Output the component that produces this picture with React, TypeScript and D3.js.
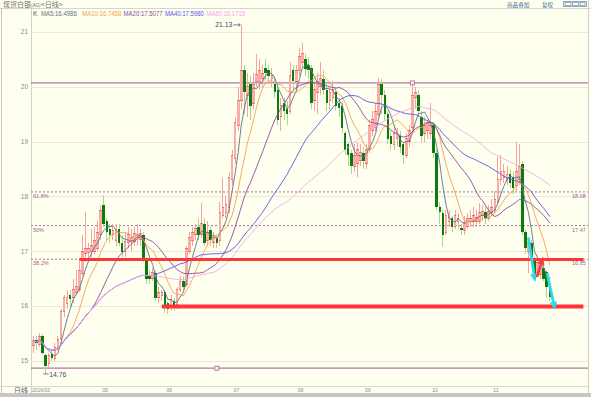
import React from 'react';
import * as d3 from 'd3';

const W = 591;
const H = 397;

// daily candles: [open, high, low, close]
const candles: [number, number, number, number][] = [
  [15.28, 15.45, 15.15, 15.37], [15.38, 15.45, 15.2, 15.32], [15.3, 15.5, 15.25, 15.45], [15.45, 15.48, 15.1, 15.15],
  [15.1, 15.12, 14.76, 14.9], [14.95, 15.15, 14.88, 15.1], [15.12, 15.2, 15.0, 15.05], [15.05, 15.32, 15.0, 15.25],
  [15.25, 15.45, 15.2, 15.38], [15.4, 15.95, 15.3, 15.9], [15.9, 16.2, 15.8, 16.15], [16.05, 16.3, 15.95, 16.15],
  [16.2, 16.3, 16.0, 16.12], [16.15, 16.5, 16.05, 16.3], [16.25, 16.65, 16.2, 16.35], [16.3, 16.85, 16.25, 16.65],
  [16.6, 17.3, 16.55, 17.0], [16.95, 17.72, 16.8, 17.05], [16.98, 17.15, 16.85, 17.05], [17.0, 17.4, 16.9, 17.1],
  [17.0, 17.45, 16.95, 17.2], [17.05, 17.55, 17.0, 17.35], [17.3, 17.85, 17.2, 17.75], [17.85, 18.02, 17.45, 17.5],
  [17.55, 17.6, 17.2, 17.35], [17.4, 17.5, 17.15, 17.3], [17.3, 17.5, 17.2, 17.38], [17.2, 17.5, 17.1, 17.4],
  [17.4, 17.5, 17.1, 17.15], [17.15, 17.3, 16.9, 16.98], [17.0, 17.35, 16.9, 17.18], [17.15, 17.45, 17.05, 17.3],
  [17.2, 17.4, 17.0, 17.25], [17.18, 17.45, 17.1, 17.32], [17.25, 17.5, 17.1, 17.3], [17.22, 17.4, 17.1, 17.32],
  [17.3, 17.35, 16.8, 16.85], [16.85, 16.9, 16.4, 16.5], [16.55, 16.65, 16.4, 16.5], [16.5, 16.7, 16.45, 16.62],
  [16.6, 16.65, 16.1, 16.15], [16.15, 16.35, 16.05, 16.25], [16.2, 16.3, 16.1, 16.25], [16.25, 16.3, 15.87, 16.0],
  [16.05, 16.1, 15.85, 15.95], [15.98, 16.2, 15.9, 16.12], [16.1, 16.15, 15.9, 16.0], [16.02, 16.35, 15.95, 16.3],
  [16.3, 16.55, 16.25, 16.45], [16.45, 16.55, 16.3, 16.35], [16.4, 17.1, 16.35, 17.05], [17.0, 17.35, 16.95, 17.25],
  [17.2, 17.45, 17.1, 17.35], [17.3, 17.5, 17.2, 17.42], [17.45, 17.6, 17.2, 17.3], [17.3, 17.88, 17.25, 17.5],
  [17.5, 17.6, 17.1, 17.15], [17.2, 17.55, 17.1, 17.35], [17.38, 17.45, 17.1, 17.2], [17.15, 17.35, 17.05, 17.25],
  [17.25, 17.3, 17.05, 17.15], [17.2, 17.9, 17.1, 17.7], [17.65, 18.33, 17.6, 17.8], [17.7, 18.0, 17.6, 17.85],
  [17.8, 18.45, 17.7, 18.35], [18.3, 18.85, 18.2, 18.75], [18.7, 19.45, 18.6, 19.35], [19.3, 20.0, 19.2, 19.75],
  [19.75, 21.13, 19.6, 20.3], [20.3, 20.4, 19.5, 19.9], [19.85, 20.25, 19.45, 20.0], [20.05, 20.2, 19.4, 19.65],
  [19.7, 20.25, 19.6, 20.05], [20.1, 20.6, 20.0, 20.22], [20.1, 20.5, 19.95, 20.3], [20.15, 20.4, 20.0, 20.25],
  [20.35, 20.5, 20.1, 20.25], [20.3, 20.4, 20.05, 20.2], [20.15, 20.35, 20.0, 20.2], [20.05, 20.2, 19.8, 19.9],
  [19.95, 20.0, 19.3, 19.4], [19.45, 19.8, 19.2, 19.65], [19.7, 19.8, 19.4, 19.55], [19.6, 19.75, 19.3, 19.5],
  [19.55, 20.45, 19.5, 20.2], [20.3, 20.4, 19.95, 20.1], [20.1, 20.4, 19.9, 20.3], [20.3, 20.7, 20.2, 20.55],
  [20.45, 20.8, 20.35, 20.6], [20.5, 20.6, 20.2, 20.32], [20.4, 20.55, 20.15, 20.3], [20.35, 20.4, 19.6, 19.7],
  [19.75, 20.1, 19.55, 19.95], [19.9, 20.25, 19.5, 20.1], [20.0, 20.45, 19.85, 20.15], [20.15, 20.3, 19.85, 19.95],
  [19.95, 20.05, 19.55, 19.7], [19.75, 20.0, 19.6, 19.9], [19.8, 20.1, 19.7, 19.95], [19.9, 20.0, 19.55, 19.65],
  [19.7, 19.8, 19.45, 19.62], [19.65, 19.7, 19.15, 19.25], [19.15, 19.2, 18.75, 18.85], [18.95, 19.0, 18.55, 18.75],
  [18.8, 18.85, 18.4, 18.55], [18.55, 18.95, 18.45, 18.75], [18.6, 19.0, 18.35, 18.85], [18.65, 18.95, 18.55, 18.8],
  [18.8, 18.9, 18.5, 18.65], [18.6, 18.95, 18.5, 18.85], [18.85, 19.4, 18.8, 19.3], [19.2, 19.55, 19.1, 19.4],
  [19.25, 19.7, 19.2, 19.55], [19.5, 20.16, 19.45, 20.05], [20.05, 20.15, 19.5, 19.85], [19.85, 19.95, 19.4, 19.5],
  [19.5, 19.55, 18.95, 19.05], [19.1, 19.2, 18.85, 18.95], [18.95, 19.3, 18.85, 19.15], [19.05, 19.25, 18.9, 19.15],
  [19.1, 19.2, 18.8, 18.9], [18.95, 19.0, 18.6, 18.75], [18.75, 19.15, 18.7, 19.05], [19.0, 19.3, 18.9, 19.2],
  [19.25, 20.07, 19.2, 19.85], [19.8, 20.0, 19.6, 19.9], [19.85, 19.95, 19.45, 19.55], [19.45, 19.55, 19.0, 19.1],
  [19.15, 19.45, 19.0, 19.3], [19.2, 19.4, 19.05, 19.35], [19.15, 19.7, 19.05, 19.3], [19.3, 19.35, 18.7, 18.8],
  [18.8, 18.85, 17.75, 17.8], [17.8, 17.9, 17.5, 17.72], [17.7, 17.75, 17.08, 17.3], [17.35, 17.75, 17.3, 17.65],
  [17.55, 17.75, 17.45, 17.62], [17.6, 17.65, 17.35, 17.45], [17.45, 17.75, 17.4, 17.65], [17.55, 17.7, 17.4, 17.6],
  [17.42, 17.5, 17.3, 17.38], [17.38, 17.65, 17.3, 17.5], [17.45, 17.7, 17.4, 17.6], [17.55, 17.75, 17.45, 17.6],
  [17.55, 17.8, 17.45, 17.65], [17.55, 17.75, 17.45, 17.62], [17.55, 17.88, 17.5, 17.7], [17.65, 17.85, 17.55, 17.72],
  [17.72, 17.8, 17.5, 17.6], [17.6, 17.85, 17.55, 17.72], [17.7, 17.95, 17.65, 17.8], [17.75, 18.1, 17.7, 17.95],
  [17.9, 18.72, 17.85, 18.3], [18.3, 18.75, 18.2, 18.45], [18.35, 18.6, 18.25, 18.45], [18.3, 18.55, 18.2, 18.4],
  [18.4, 18.5, 18.15, 18.25], [18.35, 18.45, 18.05, 18.15], [18.2, 19.0, 18.1, 18.45], [18.3, 18.95, 18.2, 18.55],
  [18.6, 18.65, 17.3, 17.35], [17.35, 17.4, 16.95, 17.05], [17.0, 17.25, 16.6, 17.15], [17.15, 17.2, 16.75, 16.85],
  [16.85, 16.9, 16.5, 16.57], [16.62, 16.9, 16.55, 16.8], [16.58, 16.8, 16.5, 16.7], [16.7, 16.75, 16.45, 16.5],
  [16.62, 16.65, 16.15, 16.35], [16.38, 16.42, 16.1, 16.17],
];

const monthTicks = [
  { i: 0, label: '2016/03' }, { i: 23, label: '05' }, { i: 44, label: '06' }, { i: 66, label: '07' },
  { i: 87, label: '08' }, { i: 109, label: '09' }, { i: 131, label: '10' }, { i: 151, label: '11' },
];
const yTicks = [15, 16, 17, 18, 19, 20, 21];

const maPeriods = [5, 10, 20, 40, 60];
const maColors = ['#5d7287', '#f5a24c', '#8a4b9d', '#5656e6', '#f4a8ef'];
const maLegendValues = ['16.4986', '16.7458', '17.5077', '17.5980', '18.1715'];

const fibHigh = 20.07;
const fibLow = 14.865;
const fibRatios = [0.618, 0.5, 0.382];
const fibLabels = ['61.8%', '50%', '38.2%'];
const fibAnchors = [124, 60]; // candle indices of the markers on the high / low lines

const redLines = [{ from: 15, value: 16.85, width: 3 }, { from: 42, value: 15.99, width: 4 }];
const arrows = [
  { from: [162, 17.25], to: [164.2, 16.44], color: '#2ed8ea' },
  { from: [164.8, 16.53], to: [166.8, 16.9], color: '#ff3a3a' },
  { from: [168.1, 16.6], to: [170.7, 15.93], color: '#2ed8ea' },
];
const highMark = { i: 68, value: 21.13 };
const lowMark = { i: 4, value: 14.76 };

const LEFT = 31;
const RIGHT = 588;
const AXIS_Y = 386;

const x = d3.scaleLinear().domain([-0.5, 181.5]).range([32, 588]);
const y = d3.scaleLinear().domain([15, 21]).range([360.8, 32]);

const closes = candles.map(c => c[3]);
const movingAvg = (n: number) =>
  closes.map((_, i) => d3.mean(closes.slice(Math.max(0, i - n + 1), i + 1)) as number);

const line = d3.line<number>().x((_, i) => x(i)).y(v => y(v));

const Arrow = ({ a }: { a: typeof arrows[number] }) => {
  const x1 = x(a.from[0]), y1 = y(a.from[1]);
  const x2 = x(a.to[0]), y2 = y(a.to[1]);
  const ang = Math.atan2(y2 - y1, x2 - x1);
  const len = 8, half = 3.8;
  const bx = x2 - len * Math.cos(ang), by = y2 - len * Math.sin(ang);
  const px = -Math.sin(ang) * half, py = Math.cos(ang) * half;
  return (
    <g>
      <line x1={x1} y1={y1} x2={bx} y2={by} stroke={a.color} strokeWidth={2.8} />
      <polygon points={`${x2},${y2} ${bx + px},${by + py} ${bx - px},${by - py}`} fill={a.color} />
    </g>
  );
};

export default function App() {
  const bw = 2.6;
  const font = '"Liberation Sans", "DejaVu Sans", sans-serif';
  const cjk = '"Noto Sans CJK SC", sans-serif';
  return (
    <svg width={W} height={H} style={{ position: 'fixed', left: 0, top: 0, display: 'block' }}>
      <rect width={W} height={H} fill="#fffff0" />

      {/* header */}
      <text x={3} y={7} fontSize={7} fontFamily={cjk} fill="#707070">
        现货白银<tspan fontSize={5}>(AG)</tspan>&lt;日线&gt;
      </text>
      <text x={507} y={7} fontSize={5.6} fontFamily={cjk} fill="#3f6f96" textDecoration="underline">商品叠加</text>
      <text x={542} y={7} fontSize={5.6} fontFamily={cjk} fill="#3f6f96" textDecoration="underline">复权</text>
      <g fill="none" stroke="#7a9ab8" strokeWidth={0.8}>
        <rect x={563.5} y={1.5} width={23} height={5} />
        <rect x={565} y={2.5} width={6} height={3} />
        <rect x={572.5} y={2.5} width={6} height={3} />
        <rect x={580} y={2.5} width={5} height={3} />
      </g>
      <line x1={0} x2={W} y1={8.5} y2={8.5} stroke="#d6d6d0" />

      {/* legend */}
      <text x={33} y={15.5} fontSize={6.5} fontFamily={font} fill="#555">K</text>
      {maPeriods.map((p, k) => {
        const txt = `MA${p}:${maLegendValues[k]}`;
        return (
          <text key={p} x={41 + k * 41.3} y={15.5} fontSize={6.8} fontFamily={font} fill={maColors[k]}
            textLength={txt.length * 3.25} lengthAdjust="spacingAndGlyphs">{txt}</text>
        );
      })}

      {/* frame & grid */}
      <line x1={1.5} x2={1.5} y1={8} y2={393} stroke="#c9c2c9" />
      <line x1={LEFT + 0.5} x2={LEFT + 0.5} y1={8} y2={393} stroke="#d2cfcf" />
      <line x1={RIGHT + 0.5} x2={RIGHT + 0.5} y1={0} y2={393} stroke="#cfcfcf" />
      {yTicks.map(t => (
        <g key={t}>
          <line x1={LEFT} x2={RIGHT} y1={Math.round(y(t)) + 0.5} y2={Math.round(y(t)) + 0.5} stroke="#ebe8d8" />
          <text x={28} y={y(t) + 2.3} fontSize={6.5} fontFamily={font} fill="#8a8a8a" textAnchor="end">{t}</text>
        </g>
      ))}

      {/* fibonacci */}
      {[fibHigh, fibLow].map((v, k) => (
        <g key={v}>
          <line x1={LEFT} x2={RIGHT} y1={y(v)} y2={y(v)} stroke="#b07aa2" strokeWidth={1.3} />
          <rect x={x(fibAnchors[k]) - 2} y={y(v) - 2} width={4} height={4} fill="#fffff0" stroke="#a86f9a" strokeWidth={0.9} />
        </g>
      ))}
      {fibRatios.map((r, k) => {
        const v = fibLow + r * (fibHigh - fibLow);
        return (
          <g key={r}>
            <line x1={LEFT} x2={RIGHT} y1={y(v)} y2={y(v)} stroke="#a8739c" strokeDasharray="2,2" />
            <text x={33} y={y(v) + 6} fontSize={5.5} fontFamily={font} fill="#9a5f8e">{fibLabels[k]}</text>
            <text x={572} y={y(v) + 6} fontSize={5.5} fontFamily={font} fill="#9a5f8e">{v.toFixed(2)}</text>
          </g>
        );
      })}

      {/* candles */}
      <g shapeRendering="crispEdges">
        {candles.map((c, i) => {
          const [o, h, l, cl] = c;
          const up = cl >= o;
          const cx = x(i);
          const top = y(Math.max(o, cl));
          const bot = y(Math.min(o, cl));
          return (
            <g key={i}>
              <line x1={cx} x2={cx} y1={y(h)} y2={y(l)} stroke={up ? '#f6a4a0' : '#a6d892'} />
              {up ? (
                <g>
                  <rect x={cx - bw / 2} y={top} width={bw} height={Math.max(1, bot - top)} fill="#f9ada6" />
                  <line x1={cx - bw / 2} x2={cx + bw / 2} y1={top} y2={top} stroke="#f05a5a" strokeWidth={0.8} />
                  <line x1={cx - bw / 2} x2={cx + bw / 2} y1={bot} y2={bot} stroke="#f05a5a" strokeWidth={0.8} />
                </g>
              ) : (
                <rect x={cx - bw / 2} y={top} width={bw} height={Math.max(1, bot - top)} fill="#0b7b0b" />
              )}
            </g>
          );
        })}
      </g>

      {/* moving averages */}
      {maPeriods.map((p, k) => (
        <path key={p} d={line(movingAvg(p)) as string} fill="none" stroke={maColors[k]} strokeWidth={0.9} />
      ))}

      {/* drawn support lines & arrows */}
      {redLines.map(r => (
        <line key={r.value} x1={x(r.from)} x2={x(180)} y1={y(r.value)} y2={y(r.value)} stroke="#ff3535" strokeWidth={r.width} />
      ))}
      {arrows.map((a, k) => <Arrow key={k} a={a} />)}

      {/* extreme marks */}
      <text x={x(highMark.i) - 9} y={y(highMark.value) + 2.4} fontSize={6.8} fontFamily={font} fill="#3d4b66" textAnchor="end">
        {highMark.value.toFixed(2)}
      </text>
      <line x1={x(highMark.i) - 8} x2={x(highMark.i) - 1} y1={y(highMark.value)} y2={y(highMark.value)} stroke="#3d4b66" strokeWidth={0.7} />
      <path d={`M${x(highMark.i) - 3},${y(highMark.value) - 1.5} L${x(highMark.i) - 1},${y(highMark.value)} L${x(highMark.i) - 3},${y(highMark.value) + 1.5}`} fill="none" stroke="#3d4b66" strokeWidth={0.7} />
      <line x1={x(lowMark.i) - 2.5} x2={x(lowMark.i) + 3} y1={y(lowMark.value)} y2={y(lowMark.value)} stroke="#3d4b66" strokeWidth={0.7} />
      <text x={x(lowMark.i) + 3.5} y={y(lowMark.value) + 2.6} fontSize={6.8} fontFamily={font} fill="#3d4b66">
        {lowMark.value.toFixed(2)}
      </text>

      {/* x axis */}
      <line x1={0} x2={RIGHT} y1={AXIS_Y + 0.5} y2={AXIS_Y + 0.5} stroke="#dcd8cc" />
      <text x={28} y={392.5} fontSize={7} fontFamily={cjk} fill="#555" textAnchor="end">日线</text>
      {monthTicks.map(t => (
        <text key={t.label} x={x(t.i) - 1.5} y={391.5} fontSize={5} fontFamily={font} fill="#8a8a8a">{t.label}</text>
      ))}
      <rect x={0} y={393} width={W} height={4} fill="#c6c6c6" />
    </svg>
  );
}
